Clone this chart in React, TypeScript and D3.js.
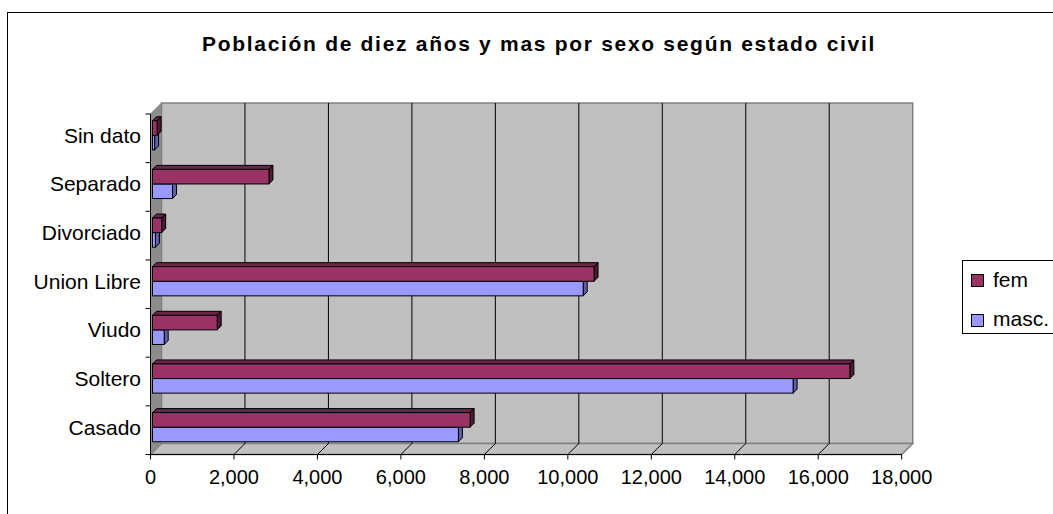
import React from "react";
import * as d3 from "d3";

const categories = ["Casado", "Soltero", "Viudo", "Union Libre", "Divorciado", "Separado", "Sin dato"];
const femValues = [7610, 16710, 1550, 10580, 220, 2790, 110];
const mascValues = [7330, 15350, 280, 10320, 70, 480, 50];
const series = ["fem", "masc."];
const xTicks = [0, 2000, 4000, 6000, 8000, 10000, 12000, 14000, 16000, 18000];
const title = "Población de diez años y mas por sexo según estado civil";

const W = 1053;
const H = 514;
const DX = 11; // wall depth
const DY = -11;
const BOX = 2; // bar front offset in depth
const BD = 4; // bar depth

const colors: Record<string, { front: string; top: string; side: string }> = {
  fem: { front: "#993366", top: "#6E2449", side: "#4D1A33" },
  "masc.": { front: "#9999FF", top: "#7272C0", side: "#5F5FA8" },
};

export default function App() {
  const x = d3.scaleLinear().domain([0, 18000]).range([150.5, 901.7]);
  const y = d3.scaleBand<string>().domain(categories).range([454.5, 114]);
  const inner = d3.scaleBand<string>().domain(series).range([0, y.bandwidth()]).paddingOuter(0.667);
  const fmt = d3.format(",");
  const font = "'Liberation Sans', Arial, sans-serif";

  const x0 = x(0);
  const x1 = x(18000);
  const yTop = 114;
  const yBot = 454.5;

  const bars: JSX.Element[] = [];
  categories.forEach((c, i) => {
    const vals: Record<string, number> = { fem: femValues[i], "masc.": mascValues[i] };
    // draw masc first, then fem on top
    ["masc.", "fem"].forEach((s) => {
      const col = colors[s];
      const bx0 = x(0) + BOX;
      const bx1 = x(vals[s]) + BOX;
      const by = (y(c) as number) + (inner(s) as number) - 3;
      const bh = inner.bandwidth();
      const top = `M${bx0},${by} L${bx0 + BD},${by - BD} L${bx1 + BD},${by - BD} L${bx1},${by} Z`;
      const side = `M${bx1},${by} L${bx1 + BD},${by - BD} L${bx1 + BD},${by + bh - BD} L${bx1},${by + bh} Z`;
      bars.push(
        <g key={c + s}>
          <path d={top} fill={col.top} stroke="#000" strokeWidth={1} strokeLinejoin="round" />
          <path d={side} fill={col.side} stroke="#000" strokeWidth={1} strokeLinejoin="round" />
          <rect x={bx0} y={by} width={bx1 - bx0} height={bh} fill={col.front} stroke="#000" strokeWidth={1} />
        </g>
      );
    });
  });

  return (
    <svg
      width={W}
      height={H}
      style={{ position: "absolute", left: 0, top: 0, display: "block", background: "#fff" }}
    >
      {/* outer chart border */}
      <rect x={7.5} y={12.5} width={1200} height={700} fill="#fff" stroke="#000" strokeWidth={1} />

      {/* title */}
      <text
        x={539}
        y={51}
        textAnchor="middle"
        fontFamily={font}
        fontWeight="bold"
        fontSize={21}
        letterSpacing={1.7}
        fill="#000"
      >
        {title}
      </text>

      {/* back wall */}
      <rect x={x0 + DX} y={yTop + DY} width={x1 - x0} height={yBot - yTop} fill="#C0C0C0" stroke="#808080" strokeWidth={1.5} />
      {/* floor */}
      <path
        d={`M${x0},${yBot} L${x1},${yBot} L${x1 + DX},${yBot + DY} L${x0 + DX},${yBot + DY} Z`}
        fill="#C0C0C0"
        stroke="#808080"
        strokeWidth={1.5}
      />
      {/* side wall */}
      <path
        d={`M${x0},${yTop} L${x0 + DX},${yTop + DY} L${x0 + DX},${yBot + DY} L${x0},${yBot} Z`}
        fill="#8C8C8C"
        stroke="#808080"
        strokeWidth={1}
      />

      {/* gridlines */}
      {xTicks.slice(1, -1).map((t) => (
        <g key={"g" + t}>
          <line x1={x(t) + DX} x2={x(t) + DX} y1={yTop + DY} y2={yBot + DY} stroke="#000" strokeWidth={1} />
          <line x1={x(t)} y1={yBot} x2={x(t) + DX} y2={yBot + DY} stroke="#000" strokeWidth={1} />
        </g>
      ))}

      {bars}

      {/* axes */}
      <line x1={x0} x2={x0} y1={yTop} y2={yBot} stroke="#000" strokeWidth={1} />
      <line x1={x0} x2={x1} y1={yBot} y2={yBot} stroke="#000" strokeWidth={1} />
      {xTicks.map((t) => (
        <g key={"t" + t}>
          <line x1={x(t)} x2={x(t)} y1={yBot} y2={yBot + 5} stroke="#000" strokeWidth={1} />
          <text x={x(t)} y={484} textAnchor="middle" fontFamily={font} fontSize={20} fill="#000">
            {fmt(t)}
          </text>
        </g>
      ))}
      {categories.map((c) => (
        <line key={"ct" + c} x1={x0 - 5} x2={x0} y1={(y(c) as number)} y2={(y(c) as number)} stroke="#000" strokeWidth={1} />
      ))}
      <line x1={x0 - 5} x2={x0} y1={yBot} y2={yBot} stroke="#000" strokeWidth={1} />
      {categories.map((c) => (
        <text
          key={"cl" + c}
          x={141}
          y={(y(c) as number) + y.bandwidth() / 2 - 3}
          textAnchor="end"
          dominantBaseline="central"
          fontFamily={font}
          fontSize={21}
          fill="#000"
        >
          {c}
        </text>
      ))}

      {/* legend */}
      <rect x={962.5} y={260.5} width={200} height={73} fill="#fff" stroke="#000" strokeWidth={1} />
      {["fem", "masc."].map((s, i) => (
        <g key={"lg" + s}>
          <rect x={971.5} y={274.5 + i * 40} width={12} height={12} fill={colors[s].front} stroke="#000" strokeWidth={1} />
          <text x={993} y={287 + i * 39} fontFamily={font} fontSize={21} fill="#000">
            {s}
          </text>
        </g>
      ))}
    </svg>
  );
}
